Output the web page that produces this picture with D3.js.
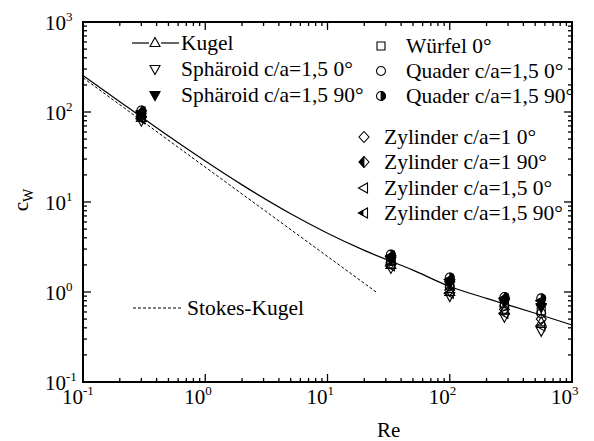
<!DOCTYPE html>
<html>
<head>
<meta charset="utf-8">
<script src="https://cdn.jsdelivr.net/npm/d3@7"></script>
<style>
  body { margin: 0; background: #fff; }
</style>
</head>
<body>
<div id="chart"></div>
<script>
// Reynolds numbers of the measured clusters
const reValues = [0.3, 33, 100, 280, 560];

// cw values per body shape
const kugelPts    = [86, 2.0, 1.0, 0.62, 0.46];
const sphaeroid0  = [80, 1.85, 0.9, 0.53, 0.37];
const sphaeroid90 = [95, 2.3, 1.25, 0.78, 0.68];
const wuerfel0    = [93, 2.25, 1.2, 0.74, 0.62];
const quader0     = [91, 2.2, 1.15, 0.7, 0.58];
const quader90    = [104, 2.6, 1.45, 0.88, 0.85];
const zyl1_0      = [89, 2.1, 1.05, 0.64, 0.5];
const zyl1_90     = [97, 2.4, 1.3, 0.82, 0.72];
const zyl15_0     = [84, 1.95, 0.97, 0.58, 0.42];
const zyl15_90    = [100, 2.5, 1.38, 0.85, 0.8];

// Kugel reference curve
const kugelRe = [0.1, 0.2, 0.5, 1, 2, 5, 10, 20, 50, 100, 200, 500, 1000];
const kugelCw = [255, 130, 54, 28.5, 15.5, 7.4, 4.5, 2.9, 1.75, 1.15, 0.85, 0.58, 0.43];

// Stokes law line
const stokesRe = [0.1, 25];
const stokesCw = [240, 1];

const seriesNames = ["Kugel", "Sphäroid c/a=1,5 0°", "Sphäroid c/a=1,5 90°", "Würfel 0°",
  "Quader c/a=1,5 0°", "Quader c/a=1,5 90°", "Zylinder c/a=1 0°", "Zylinder c/a=1 90°",
  "Zylinder c/a=1,5 0°", "Zylinder c/a=1,5 90°"];
const seriesValues = [kugelPts, sphaeroid0, sphaeroid90, wuerfel0, quader0, quader90,
  zyl1_0, zyl1_90, zyl15_0, zyl15_90];
const seriesSymbols = ["triUp", "triDown", "triDownFill", "square", "circle", "circleHalf",
  "diamond", "diamondHalf", "triLeft", "triLeftHalf"];

const xDomain = [0.1, 1000];
const yDomain = [0.1, 1000];

const width = 594, height = 441;
const margin = {top: 22, right: 22, bottom: 59, left: 83};
const FONT = "Liberation Serif";
const LEG_SIZE = 21.5;

const svg = d3.select("#chart").append("svg")
  .attr("width", width).attr("height", height);

const x = d3.scaleLog().domain(xDomain).range([margin.left, width - margin.right]);
const y = d3.scaleLog().domain(yDomain).range([height - margin.bottom, margin.top]);

const x0 = x.range()[0], x1 = x.range()[1];
const y0 = y.range()[0], y1 = y.range()[1];

// tick values: majors at decades, minors at 2..9
function logTicks(dom) {
  const major = [], minor = [];
  for (let e = Math.round(Math.log10(dom[0])); e <= Math.round(Math.log10(dom[1])); e++) {
    major.push(Math.pow(10, e));
    if (Math.pow(10, e) < dom[1]) for (let m = 2; m <= 9; m++) minor.push(m * Math.pow(10, e));
  }
  return {major, minor};
}
const xt = logTicks(xDomain), yt = logTicks(yDomain);

const axisG = svg.append("g").attr("stroke", "#000").attr("stroke-width", 1.3);
// ticks on all four sides, pointing inwards
xt.major.forEach(v => {
  axisG.append("line").attr("x1", x(v)).attr("x2", x(v)).attr("y1", y0).attr("y2", y0 - 8);
  axisG.append("line").attr("x1", x(v)).attr("x2", x(v)).attr("y1", y1).attr("y2", y1 + 8);
});
xt.minor.forEach(v => {
  axisG.append("line").attr("x1", x(v)).attr("x2", x(v)).attr("y1", y0).attr("y2", y0 - 4);
  axisG.append("line").attr("x1", x(v)).attr("x2", x(v)).attr("y1", y1).attr("y2", y1 + 4);
});
yt.major.forEach(v => {
  axisG.append("line").attr("x1", x0).attr("x2", x0 + 8).attr("y1", y(v)).attr("y2", y(v));
  axisG.append("line").attr("x1", x1).attr("x2", x1 - 8).attr("y1", y(v)).attr("y2", y(v));
});
yt.minor.forEach(v => {
  axisG.append("line").attr("x1", x0).attr("x2", x0 + 4).attr("y1", y(v)).attr("y2", y(v));
  axisG.append("line").attr("x1", x1).attr("x2", x1 - 4).attr("y1", y(v)).attr("y2", y(v));
});
svg.append("rect")
  .attr("x", x0).attr("y", y1).attr("width", x1 - x0).attr("height", y0 - y1)
  .attr("fill", "none").attr("stroke", "#000").attr("stroke-width", 2);

// tick labels
function powLabel(sel, v) {
  const e = Math.round(Math.log10(v));
  sel.append("tspan").attr("font-family", FONT).text("10");
  sel.append("tspan").attr("font-family", FONT).attr("font-size", 13).attr("dy", -9).text(e);
}
xt.major.forEach(v => {
  const t = svg.append("text").attr("font-family", FONT)
    .attr("x", x(v) - 21).attr("y", y0 + 22).attr("font-size", 21);
  powLabel(t, v);
});
yt.major.forEach(v => {
  const t = svg.append("text").attr("font-family", FONT)
    .attr("x", 45).attr("y", y(v) + 8).attr("font-size", 21);
  powLabel(t, v);
});

// axis titles
svg.append("text").attr("font-family", FONT)
  .attr("x", (x(10) + x(100)) / 2).attr("y", 437)
  .attr("text-anchor", "middle").attr("font-size", 21).text("Re");
const yl = svg.append("text").attr("font-family", FONT)
  .attr("transform", "translate(28,200) rotate(-90)")
  .attr("text-anchor", "middle").attr("font-size", 21);
yl.append("tspan").attr("font-family", FONT).text("c");
yl.append("tspan").attr("font-family", FONT).attr("font-size", 14).attr("dy", 5).text("W");

// curves
const line = d3.line().x(d => x(d[0])).y(d => y(d[1]));
svg.append("path")
  .attr("d", line.curve(d3.curveMonotoneX)(kugelRe.map((r, i) => [r, kugelCw[i]])))
  .attr("fill", "none").attr("stroke", "#000").attr("stroke-width", 1.2);
svg.append("path")
  .attr("d", line.curve(d3.curveLinear)(stokesRe.map((r, i) => [r, stokesCw[i]])))
  .attr("fill", "none").attr("stroke", "#000").attr("stroke-width", 1)
  .attr("stroke-dasharray", "3,2");

// marker shapes
const shapes = {
  triUp:    "M0,-5.5L5,3.5L-5,3.5Z",
  triDown:  "M0,5.5L5,-3.5L-5,-3.5Z",
  square:   "M-4,-4h8v8h-8Z",
  circle:   "M4.5,0A4.5,4.5 0 1 1 -4.5,0A4.5,4.5 0 1 1 4.5,0Z",
  diamond:  "M0,-5.5L5,0L0,5.5L-5,0Z",
  triLeft:  "M-5.5,0L3.5,-5L3.5,5Z"
};
const fills = {
  triDownFill: "M0,5.5L5,-3.5L-5,-3.5Z",
  circleHalf:  "M0,-4.5A4.5,4.5 0 0 1 0,4.5Z",
  diamondHalf: "M0,-5.5L-5,0L0,5.5Z",
  triLeftHalf: "M-5.5,0L-1,-2.5L-1,2.5Z"
};
const baseOf = {triDownFill: "triDown", circleHalf: "circle", diamondHalf: "diamond", triLeftHalf: "triLeft"};

function drawSymbol(g, sym, cx, cy) {
  const base = shapes[sym] ? sym : baseOf[sym];
  g.append("path").attr("d", shapes[base]).attr("transform", `translate(${cx},${cy})`)
    .attr("fill", "none").attr("stroke", "#000").attr("stroke-width", 1.1);
  if (fills[sym]) {
    g.append("path").attr("d", fills[sym]).attr("transform", `translate(${cx},${cy})`)
      .attr("fill", "#000").attr("stroke", "#000").attr("stroke-width", 0.8);
  }
}

const pts = svg.append("g");
seriesValues.forEach((vals, si) => {
  vals.forEach((v, i) => drawSymbol(pts, seriesSymbols[si], x(reValues[i]), y(v)));
});

// legend
const leg = svg.append("g");
const legPos = [
  [155, 43, 181], [155, 69, 181], [155, 95, 181],
  [381, 46, 406], [381, 71, 406], [381, 96, 406],
  [364, 137, 384], [364, 162, 384], [364, 188, 384], [364, 213, 384]
];
seriesNames.forEach((name, i) => {
  const [mx, my, tx] = legPos[i];
  drawSymbol(leg, seriesSymbols[i], mx, my);
  leg.append("text").attr("font-family", FONT).attr("font-size", LEG_SIZE)
    .attr("x", tx).attr("y", my + 7).text(name);
});
// Kugel legend line
leg.append("line").attr("x1", 132).attr("x2", 149).attr("y1", 43).attr("y2", 43)
  .attr("stroke", "#000").attr("stroke-width", 1.2);
leg.append("line").attr("x1", 161).attr("x2", 179).attr("y1", 43).attr("y2", 43)
  .attr("stroke", "#000").attr("stroke-width", 1.2);
// Stokes legend
leg.append("line").attr("x1", 133).attr("x2", 182).attr("y1", 308).attr("y2", 308)
  .attr("stroke", "#000").attr("stroke-width", 1).attr("stroke-dasharray", "3,2");
leg.append("text").attr("font-family", FONT).attr("font-size", LEG_SIZE)
  .attr("x", 187).attr("y", 315).text("Stokes-Kugel");
</script>
</body>
</html>
